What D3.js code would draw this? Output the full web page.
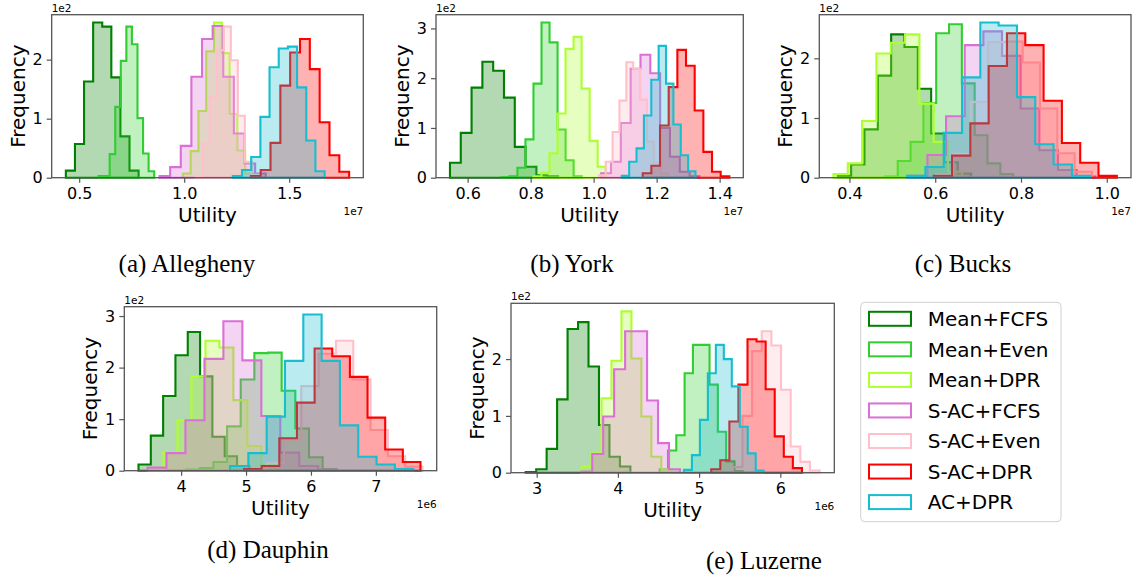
<!DOCTYPE html>
<html>
<head>
<meta charset="utf-8">
<script src="https://d3js.org/d3.v7.min.js"></script>
<style>
  body { margin: 0; background: #fff; }
  svg { display: block; }
</style>
</head>
<body>
<svg id="drawing_region"></svg>
<script>
const seriesNames = ["Mean+FCFS", "Mean+Even", "Mean+DPR", "S-AC+FCFS", "S-AC+Even", "S-AC+DPR", "AC+DPR"];
const seriesColors = ["#008000", "#32cd32", "#adff2f", "#da70d6", "#ffc0cb", "#ff0000", "#17becf"];

// utility axis in units of 1e7 (a, b, c) and 1e6 (d, e); first bin edge, bin width, counts per bin
const alleghenyStarts = [0.4365, 0.5921, 0.9937, 0.8825, 1.0556, 1.3175, 1.2317];
const alleghenyWidths = [0.0433, 0.0265, 0.0371, 0.0506, 0.0333, 0.0468, 0.0437];
const alleghenyCounts = [
    [12, 57, 163, 263, 256, 170, 70, 12],
    [3, 3, 40, 120, 198, 256, 226, 101, 41, 11],
    [7, 45, 113, 214, 263, 211, 108, 46, 7],
    [3, 18, 54, 171, 235, 257, 171, 75, 24, 7],
    [3, 58, 137, 216, 256, 199, 105, 27, 5],
    [3, 13, 59, 156, 212, 235, 184, 94, 38, 10],
    [3, 13, 35, 103, 187, 219, 222, 153, 63, 11]
];
const alleghenyTicks = [0.5, 1.0, 1.5];

const yorkStarts = [0.5439, 0.7070, 0.8088, 1.0239, 1.0166, 1.1558, 1.0894];
const yorkWidths = [0.0343, 0.0255, 0.0255, 0.0312, 0.0218, 0.0275, 0.0234];
const yorkCounts = [
    [30, 90, 181, 233, 215, 161, 62, 22, 5, 3],
    [1, 3, 20, 77, 189, 312, 272, 97, 35, 3],
    [3, 10, 49, 129, 259, 283, 179, 74, 22],
    [9, 32, 110, 219, 247, 210, 100, 42, 12, 3],
    [5, 32, 92, 155, 232, 219, 157, 72, 30, 8],
    [9, 24, 105, 182, 257, 225, 135, 52, 12, 3],
    [4, 32, 59, 125, 197, 265, 189, 107, 45, 13]
];
const yorkTicks = [0.6, 0.8, 1.0, 1.2, 1.4];

const bucksStarts = [0.3728, 0.4827, 0.3627, 0.5383, 0.6019, 0.5965, 0.5344];
const bucksWidths = [0.0311, 0.0299, 0.0334, 0.0435, 0.0404, 0.0427, 0.0427];
const bucksCounts = [
    [3, 22, 81, 171, 240, 219, 149, 74, 26, 7],
    [2, 28, 60, 125, 242, 257, 158, 71, 24, 6],
    [6, 24, 95, 208, 226, 240, 124, 60, 10],
    [3, 38, 103, 222, 245, 204, 116, 46, 13, 2],
    [5, 40, 127, 227, 228, 193, 116, 41, 10],
    [3, 37, 91, 187, 242, 222, 129, 58, 25, 3],
    [3, 18, 75, 168, 260, 255, 135, 56, 22, 3]
];
const bucksTicks = [0.4, 0.6, 0.8, 1.0];

const dauphinStarts = [3.3436, 4.0769, 3.5128, 3.4821, 5.0513, 4.9692, 4.7538];
const dauphinWidths = [0.1897, 0.2103, 0.2154, 0.2923, 0.2667, 0.2718, 0.2821];
const dauphinCounts = [
    [12, 68, 145, 224, 269, 183, 66, 28, 9],
    [2, 5, 17, 86, 177, 228, 229, 155, 82, 26, 3],
    [3, 34, 98, 183, 252, 239, 137, 48, 11],
    [6, 34, 98, 217, 290, 214, 106, 35, 9, 2],
    [3, 15, 60, 164, 227, 252, 177, 79, 28, 8],
    [3, 9, 63, 132, 237, 222, 182, 103, 41, 17],
    [9, 34, 105, 213, 303, 213, 88, 27, 12, 3]
];
const dauphinTicks = [4, 5, 6, 7];

const luzerneStarts = [2.8649, 4.5145, 3.5526, 3.5485, 5.4151, 5.1490, 4.8133];
const luzerneWidths = [0.1289, 0.1023, 0.1228, 0.1351, 0.1187, 0.1117, 0.0982];
const luzerneCounts = [
    [1, 6, 42, 129, 253, 265, 187, 84, 28, 11],
    [6, 39, 66, 175, 225, 225, 155, 72, 20, 3],
    [11, 34, 131, 197, 284, 201, 99, 28, 6],
    [2, 33, 99, 182, 249, 249, 127, 52, 6],
    [10, 100, 214, 249, 224, 146, 46, 19, 4],
    [6, 22, 90, 155, 235, 231, 147, 64, 28, 8],
    [5, 31, 93, 175, 225, 200, 152, 81, 34, 4]
];
const luzerneTicks = [3, 4, 5, 6];

const freqTicks = [0, 100, 200, 300];

const svg = d3.select('#drawing_region')
    .attr('width', 1136)
    .attr('height', 581);

class HistPanel {

    constructor( config, starts, widths, counts ) {
        this.config = config;
        this.starts = starts;
        this.widths = widths;
        this.counts = counts;
        this.init();
    }

    init() {
        let self = this;
        const b = self.config.box;

        self.chart = svg.append('g');

        self.xscale = d3.scaleLinear()
            .range( [b.left, b.right] );
        self.yscale = d3.scaleLinear()
            .range( [b.bottom, b.top] );

        self.area = d3.area()
            .curve( d3.curveStepAfter )
            .x( d => self.xscale( d[0] ) )
            .y0( self.yscale(0) )
            .y1( d => self.yscale( d[1] ) );
    }

    update() {
        let self = this;

        self.series = self.counts.map( (c, i) => {
            const pts = c.map( (v, j) => [ self.starts[i] + j * self.widths[i], v ] );
            pts.push( [ self.starts[i] + c.length * self.widths[i], 0 ] );
            return pts;
        });

        const xmin = d3.min( self.series, s => s[0][0] );
        const xmax = d3.max( self.series, s => s[s.length - 1][0] );
        const pad = (xmax - xmin) * 0.05;
        self.xscale.domain( [xmin - pad, xmax + pad] );

        const ymax = d3.max( self.counts, c => d3.max(c) );
        self.yscale.domain( [0, ymax * 1.05] );

        self.render();
    }

    render() {
        let self = this;
        const b = self.config.box;

        self.chart.selectAll('path.hist')
            .data( self.series )
            .join('path')
            .attr('class', 'hist')
            .attr('d', d => self.area(d) )
            .attr('fill', (d, i) => seriesColors[i] )
            .attr('fill-opacity', 0.3)
            .attr('stroke', (d, i) => seriesColors[i] )
            .attr('stroke-width', 2.1)
            .attr('stroke-linejoin', 'miter');

        const xaxis = d3.axisBottom( self.xscale )
            .tickValues( self.config.ticks )
            .tickFormat( d3.format( self.config.fmt ) )
            .tickSize(5)
            .tickPadding(5);
        const yaxis = d3.axisLeft( self.yscale )
            .tickValues( freqTicks.filter( t => t <= self.yscale.domain()[1] ) )
            .tickFormat( d => d / 100 )
            .tickSize(5)
            .tickPadding(4);

        const gx = self.chart.append('g')
            .attr('transform', `translate(0, ${b.bottom})`)
            .call( xaxis );
        const gy = self.chart.append('g')
            .attr('transform', `translate(${b.left}, 0)`)
            .call( yaxis );

        [gx, gy].forEach( g => {
            g.select('.domain').remove();
            g.selectAll('line').attr('stroke', '#555').attr('stroke-width', 1.2);
            g.selectAll('text')
                .attr('fill', 'black')
                .attr('font-family', 'DejaVu Sans')
                .attr('font-size', '16px');
        });

        self.chart.append('rect')
            .attr('x', b.left)
            .attr('y', b.top)
            .attr('width', b.right - b.left)
            .attr('height', b.bottom - b.top)
            .attr('fill', 'none')
            .attr('stroke', '#555')
            .attr('stroke-width', 1.3);

        self.chart.append('text')
            .attr('x', (b.left + b.right) / 2)
            .attr('y', b.bottom + 44)
            .attr('text-anchor', 'middle')
            .attr('font-family', 'DejaVu Sans')
            .attr('font-size', '20px')
            .text('Utility');

        self.chart.append('text')
            .attr('transform', `translate(${b.left - 27}, ${(b.top + b.bottom) / 2}) rotate(-90)`)
            .attr('text-anchor', 'middle')
            .attr('font-family', 'DejaVu Sans')
            .attr('font-size', '20px')
            .text('Frequency');

        self.chart.append('text')
            .attr('x', b.left)
            .attr('y', b.top - 3)
            .attr('font-family', 'DejaVu Sans')
            .attr('font-size', '10.5px')
            .text('1e2');

        self.chart.append('text')
            .attr('x', b.right)
            .attr('y', b.bottom + 37.5)
            .attr('text-anchor', 'end')
            .attr('font-family', 'DejaVu Sans')
            .attr('font-size', '10.5px')
            .text( self.config.exp );

        self.chart.append('text')
            .attr('x', self.config.caption[1])
            .attr('y', self.config.caption[2])
            .attr('text-anchor', 'middle')
            .attr('font-family', 'Liberation Serif')
            .attr('font-size', '25px')
            .text( self.config.caption[0] );
    }
}

new HistPanel( { box: {left: 51.7, right: 363.3, top: 14.7, bottom: 177.7},
    ticks: alleghenyTicks, fmt: '.1f', exp: '1e7', caption: ['(a) Allegheny', 187, 271.7] },
    alleghenyStarts, alleghenyWidths, alleghenyCounts ).update();

new HistPanel( { box: {left: 436, right: 743.3, top: 14.7, bottom: 177.7},
    ticks: yorkTicks, fmt: '.1f', exp: '1e7', caption: ['(b) York', 572, 271.7] },
    yorkStarts, yorkWidths, yorkCounts ).update();

new HistPanel( { box: {left: 819.3, right: 1131, top: 14.7, bottom: 177.7},
    ticks: bucksTicks, fmt: '.1f', exp: '1e7', caption: ['(c) Bucks', 963, 271.7] },
    bucksStarts, bucksWidths, bucksCounts ).update();

new HistPanel( { box: {left: 124.3, right: 436.7, top: 306.7, bottom: 470.7},
    ticks: dauphinTicks, fmt: 'd', exp: '1e6', caption: ['(d) Dauphin', 268, 558] },
    dauphinStarts, dauphinWidths, dauphinCounts ).update();

new HistPanel( { box: {left: 511, right: 834.3, top: 303.3, bottom: 472.7},
    ticks: luzerneTicks, fmt: 'd', exp: '1e6', caption: ['(e) Luzerne', 764, 569.3] },
    luzerneStarts, luzerneWidths, luzerneCounts ).update();

// legend
const legend = svg.append('g');
legend.append('rect')
    .attr('x', 860.7)
    .attr('y', 302.3)
    .attr('width', 200.3)
    .attr('height', 219.4)
    .attr('rx', 4)
    .attr('fill', 'white')
    .attr('stroke', '#d0d0d0')
    .attr('stroke-width', 1);

const rows = legend.selectAll('g.row')
    .data( seriesNames )
    .join('g')
    .attr('class', 'row')
    .attr('transform', (d, i) => `translate(0, ${318.8 + i * 30.55})`);

rows.append('rect')
    .attr('x', 869)
    .attr('y', -7)
    .attr('width', 42)
    .attr('height', 14)
    .attr('fill', 'white')
    .attr('stroke', (d, i) => seriesColors[i])
    .attr('stroke-width', 2);

rows.append('text')
    .attr('x', 927.7)
    .attr('dy', '0.36em')
    .attr('font-family', 'DejaVu Sans')
    .attr('font-size', '20px')
    .text( d => d );
</script>
</body>
</html>
